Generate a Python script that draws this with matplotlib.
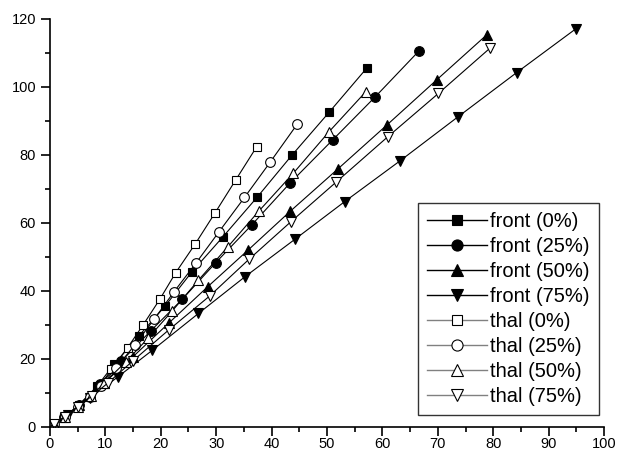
import matplotlib
matplotlib.use("Agg")
import matplotlib.pyplot as plt
from matplotlib.lines import Line2D
from matplotlib.ticker import MultipleLocator

plt.rcParams['font.family'] = ['Liberation Sans', 'DejaVu Sans']

labels = ["front (0%)", "front (25%)", "front (50%)", "front (75%)",
          "thal (0%)", "thal (25%)", "thal (50%)", "thal (75%)"]

front0_x = [57.2, 50.4, 43.7, 37.4, 31.2, 25.6, 20.8, 16.1, 11.6, 8.5, 5.2, 2.5, 0.3]
front0_y = [105.6, 92.6, 80.0, 67.6, 55.9, 45.6, 35.6, 26.9, 18.5, 12.0, 6.5, 2.8, 0.5]
front25_x = [66.6, 58.7, 51.0, 43.3, 36.4, 29.9, 23.9, 18.2, 12.9, 9.0, 5.3, 2.6, 0.3]
front25_y = [110.6, 97.1, 84.4, 71.7, 59.4, 48.3, 37.6, 28.3, 19.4, 12.5, 6.5, 2.8, 0.5]
front50_x = [78.8, 69.8, 60.8, 51.9, 43.4, 35.8, 28.5, 21.4, 15.0, 9.8, 5.3, 2.6, 0.3]
front50_y = [115.3, 102.1, 88.8, 75.8, 63.5, 52.1, 41.3, 30.5, 20.7, 13.0, 6.5, 2.8, 0.5]
front75_x = [94.9, 84.2, 73.7, 63.2, 53.2, 44.2, 35.2, 26.8, 18.5, 12.3, 7.2, 3.2, 0.3]
front75_y = [117.1, 104.2, 91.3, 78.3, 66.3, 55.2, 44.2, 33.4, 22.6, 14.8, 8.5, 3.5, 0.5]
thal0_x = [37.3, 33.5, 29.8, 26.2, 22.7, 19.8, 16.8, 14.0, 11.1, 9.0, 7.2, 5.0, 2.7, 0.8]
thal0_y = [82.4, 72.6, 63.0, 53.8, 45.4, 37.5, 30.0, 23.3, 17.0, 12.0, 8.8, 6.0, 3.0, 1.0]
thal25_x = [44.6, 39.7, 35.1, 30.5, 26.3, 22.4, 18.8, 15.3, 11.9, 9.2, 7.3, 5.0, 2.7, 0.8]
thal25_y = [89.0, 77.8, 67.5, 57.4, 48.1, 39.8, 31.7, 24.1, 17.3, 12.0, 8.8, 6.0, 3.0, 1.0]
thal50_x = [57.0, 50.4, 43.9, 37.7, 32.1, 26.8, 22.1, 17.7, 13.7, 9.8, 7.4, 5.0, 2.7, 0.8]
thal50_y = [98.6, 86.9, 74.6, 63.5, 53.0, 43.2, 34.2, 26.1, 19.2, 13.0, 9.0, 6.0, 3.0, 1.0]
thal75_x = [79.4, 70.1, 61.0, 51.7, 43.5, 35.9, 28.8, 21.4, 15.0, 10.5, 7.5, 5.0, 2.7, 0.8]
thal75_y = [111.4, 98.1, 85.4, 72.1, 60.4, 49.3, 38.5, 28.5, 19.5, 13.0, 9.0, 6.0, 3.0, 1.0]

series_x = [front0_x, front25_x, front50_x, front75_x, thal0_x, thal25_x, thal50_x, thal75_x]
series_y = [front0_y, front25_y, front50_y, front75_y, thal0_y, thal25_y, thal50_y, thal75_y]
markers = ['s', 'o', '^', 'v', 's', 'o', '^', 'v']
filled = [True, True, True, True, False, False, False, False]
msizes = [6, 7, 7.5, 7.5, 6, 7, 7.5, 7.5]

fig = plt.figure(figsize=(6.17, 4.53), dpi=100)
ax = fig.add_axes([0.081, 0.0574, 0.898, 0.9007])

handles = []
for x, y, m, f, ms, lab in zip(series_x, series_y, markers, filled, msizes, labels):
    fc = 'black' if f else 'white'
    ax.plot(x, y, color='black', lw=0.8, marker=m, ms=ms, mfc=fc, mec='black', mew=0.8)
    handles.append(Line2D([], [], color='black' if f else '#808080', lw=1.0, marker=m,
                          ms=ms + 1, mfc=fc, mec='black', mew=0.8, label=lab))

ax.set_xlim(0, 100)
ax.set_ylim(0, 120)
ax.xaxis.set_major_locator(MultipleLocator(10))
ax.xaxis.set_minor_locator(MultipleLocator(5))
ax.yaxis.set_major_locator(MultipleLocator(20))
ax.yaxis.set_minor_locator(MultipleLocator(10))
for s in ['top', 'right']:
    ax.spines[s].set_visible(False)
for s in ['left', 'bottom']:
    ax.spines[s].set_linewidth(1.2)
ax.tick_params(which='major', direction='out', length=6.5, width=1.2, labelsize=10.5)
ax.tick_params(which='minor', direction='out', length=3.6, width=1.2)
ax.tick_params(axis='y', which='major', pad=3.5)
ax.tick_params(axis='x', which='major', pad=0.8)

leg = ax.legend(handles=handles, loc='lower right', bbox_to_anchor=(0.991, 0.029),
                fontsize=14.5, frameon=True, fancybox=False, handlelength=3.0,
                handletextpad=0.15, labelspacing=0.3, borderpad=0.45, borderaxespad=0)
leg.get_frame().set_edgecolor('black')
leg.get_frame().set_linewidth(1.0)

fig.savefig('out.png', dpi=100)
